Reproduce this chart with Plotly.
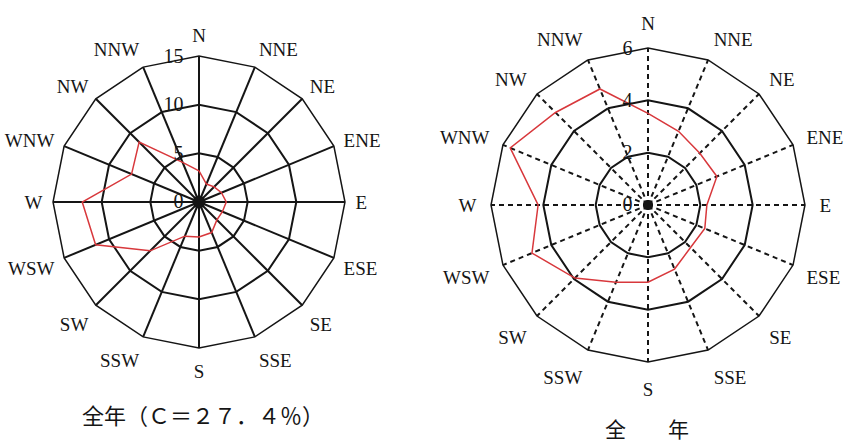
import plotly.graph_objects as go

# Sixteen compass sectors, clockwise from north
directions = ["N", "NNE", "NE", "ENE", "E", "ESE", "SE", "SSE",
              "S", "SSW", "SW", "WSW", "W", "WNW", "NW", "NNW"]

# Annual wind-direction frequency (%)
freq = [3.2, 2.0, 2.2, 2.5, 2.8, 2.6, 2.6, 3.4,
        3.6, 3.8, 7.1, 11.5, 12.0, 7.5, 8.7, 4.4]

# Annual mean wind speed by direction (m/s)
speed = [3.5, 3.05, 2.8, 2.85, 2.25, 2.35, 2.3, 2.65,
         2.95, 3.2, 3.95, 4.8, 4.2, 5.7, 5.0, 4.8]

freq_ticks = [0, 5, 10, 15]
speed_ticks = [0, 2, 4, 6]

left_caption = "全年（Ｃ＝２７．４％）"
right_caption = "全　　年"

INK = "#151515"
RED = "#d8383c"
SERIF = "Liberation Serif"
HIDDEN = "rgba(0,0,0,0)"
# polar hit-testing drops points lying exactly on the pole, so the calm
# marker sits a hair away from it
POLE = 1e-6


def closed(values):
    return list(values) + [values[0]]


def add_rose(subplot, values, centre_symbol, centre_size):
    fig.add_trace(go.Scatterpolar(
        r=closed(values), theta=closed(directions), mode="lines",
        line=dict(color=RED, width=1.5), subplot=subplot, hoverinfo="skip"))
    fig.add_trace(go.Scatterpolar(
        r=[POLE], theta=["N"], mode="markers",
        marker=dict(symbol=centre_symbol, size=centre_size, color=INK),
        subplot=subplot, hoverinfo="skip"))


fig = go.Figure()
add_rose("polar", freq, "circle", 13)
add_rose("polar2", speed, "square", 9)


def polar_layout(domain_x, domain_y, ticks, spoke_dash, label_pad):
    return dict(
        domain=dict(x=domain_x, y=domain_y),
        bgcolor="white",
        gridshape="linear",
        radialaxis=dict(
            range=[ticks[0], ticks[-1]], tickvals=ticks,
            ticktext=[str(t) for t in ticks],
            angle=90, side="counterclockwise", tickangle=90,
            showticklabels=True, ticks="outside", ticklen=8,
            tickcolor=HIDDEN, showline=False,
            tickfont=dict(family=SERIF, size=20, color=INK),
            gridcolor=INK, gridwidth=1.5),
        angularaxis=dict(
            type="category", categoryarray=directions,
            rotation=90, direction="clockwise",
            showline=True, linecolor=INK, linewidth=1.5,
            gridcolor=INK, gridwidth=1.5, griddash=spoke_dash,
            ticks="outside", ticklen=label_pad, tickcolor=HIDDEN,
            tickfont=dict(family=SERIF, size=19, color=INK)),
    )


fig.update_layout(
    width=847, height=444,
    margin=dict(l=0, r=0, t=0, b=0),
    paper_bgcolor="white",
    showlegend=False,
    hovermode=False,
    polar=polar_layout([0.0626, 0.4073], [0.2162, 0.8739],
                       freq_ticks, "solid", 6),
    polar2=polar_layout([0.5797, 0.9504], [0.1847, 0.8919],
                        speed_ticks, "5px,4px", 10),
    annotations=[
        dict(text=left_caption, x=203 / 847, y=1 - 414 / 444,
             xref="paper", yref="paper", xanchor="center", yanchor="middle",
             showarrow=False,
             font=dict(family="Noto Sans CJK SC", size=22, color=INK)),
        dict(text=right_caption, x=647 / 847, y=1 - 428 / 444,
             xref="paper", yref="paper", xanchor="center", yanchor="middle",
             showarrow=False,
             font=dict(family="Noto Sans CJK SC", size=21, color=INK)),
    ],
)

fig.write_html("out.html")
